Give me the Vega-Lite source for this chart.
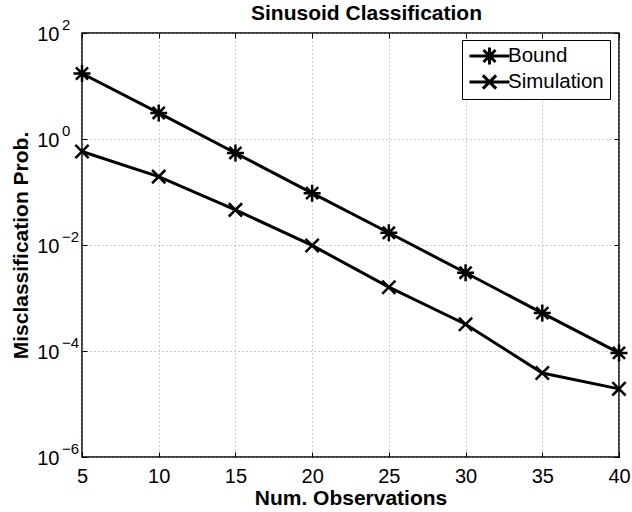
{
  "$schema": "https://vega.github.io/schema/vega-lite/v6.json",
  "width": 537,
  "height": 424,
  "autosize": "none",
  "padding": {"left": 82, "top": 33, "right": 13, "bottom": 55},
  "title": {"text": "Sinusoid Classification", "fontSize": 21, "fontWeight": "bold", "font": "Liberation Sans", "color": "black", "dx": 16, "dy": 24, "offset": 0, "baseline": "alphabetic", "anchor": "middle"},
  "config": {
    "font": "Liberation Sans",
    "view": {"stroke": "black", "strokeWidth": 1.5},
    "axis": {"labelColor": "black", "titleColor": "black", "tickColor": "black", "labelFlush": false, "labelOverlap": false, "labelBound": false, "gridColor": "#9a9a9a", "gridDash": [1, 3], "gridWidth": 1, "gridOpacity": 1}
  },
  "data": {"values": [
    {"series": "Bound", "n": 5, "p": 17.2},
    {"series": "Bound", "n": 10, "p": 3.1},
    {"series": "Bound", "n": 15, "p": 0.545},
    {"series": "Bound", "n": 20, "p": 0.095},
    {"series": "Bound", "n": 25, "p": 0.017},
    {"series": "Bound", "n": 30, "p": 0.003},
    {"series": "Bound", "n": 35, "p": 0.00052},
    {"series": "Bound", "n": 40, "p": 0.000092},
    {"series": "Simulation", "n": 5, "p": 0.58},
    {"series": "Simulation", "n": 10, "p": 0.195},
    {"series": "Simulation", "n": 15, "p": 0.046},
    {"series": "Simulation", "n": 20, "p": 0.0098},
    {"series": "Simulation", "n": 25, "p": 0.0016},
    {"series": "Simulation", "n": 30, "p": 0.00032},
    {"series": "Simulation", "n": 35, "p": 0.0000385},
    {"series": "Simulation", "n": 40, "p": 0.0000193}
  ]},
  "layer": [
    {
      "mark": {"type": "line", "color": "black", "strokeWidth": 3},
      "encoding": {
        "detail": {"field": "series"},
        "x": {"field": "n", "type": "quantitative", "scale": {"domain": [5, 40], "nice": false, "zero": false},
          "axis": {"orient": "bottom", "values": [5, 10, 15, 20, 25, 30, 35, 40], "grid": true, "domain": false, "ticks": true, "tickSize": -5, "labelPadding": 14, "labelFontSize": 20,
            "title": "Num. Observations", "titleFontSize": 21, "titleFontWeight": "bold", "titleY": 47, "titleX": 268.5, "titleBaseline": "alphabetic", "titleAlign": "center"}},
        "y": {"field": "p", "type": "quantitative", "scale": {"type": "log", "domain": [0.000001, 100], "nice": false},
          "axis": {"orient": "left", "values": [0.000001, 0.0001, 0.01, 1, 100], "grid": true, "domain": false, "ticks": true, "tickSize": -5, "labelPadding": 28, "labelFontSize": 20,
            "labelExpr": "'10'", "labelAlign": "right", "labelBaseline": "middle", "labelOffset": 1,
            "title": "Misclassification Prob.", "titleFontSize": 21, "titleFontWeight": "bold", "titleX": -55, "titleY": 212, "titleAngle": 270, "titleBaseline": "alphabetic", "titleAlign": "center"}}
      }
    },
    {
      "mark": {"type": "point", "filled": false, "stroke": "black", "strokeWidth": 2.5, "size": 289, "opacity": 1},
      "encoding": {
        "shape": {"field": "series", "type": "nominal", "scale": {"domain": ["Bound", "Simulation"], "range": ["M-1,0L1,0M0,-1L0,1M-0.71,-0.71L0.71,0.71M-0.71,0.71L0.71,-0.71", "M-0.78,-0.78L0.78,0.78M-0.78,0.78L0.78,-0.78"]}, "legend": null},
        "x": {"field": "n", "type": "quantitative", "scale": {"domain": [5, 40], "nice": false, "zero": false},
          "axis": {"orient": "top", "values": [5, 10, 15, 20, 25, 30, 35, 40], "grid": false, "domain": false, "labels": false, "ticks": true, "tickSize": -5, "title": null}},
        "y": {"field": "p", "type": "quantitative", "scale": {"type": "log", "domain": [0.000001, 100], "nice": false},
          "axis": {"orient": "right", "values": [0.000001, 0.0001, 0.01, 1, 100], "grid": false, "domain": false, "labels": false, "ticks": true, "tickSize": -5, "title": null}}
      }
    },
    {
      "mark": {"type": "point", "filled": false, "opacity": 0, "size": 400},
      "encoding": {
        "shape": {"field": "series", "type": "nominal", "scale": {"domain": ["Bound", "Simulation"], "range": ["M-2,0L2,0M-0.85,0L0.85,0M0,-0.85L0,0.85M-0.6,-0.6L0.6,0.6M-0.6,0.6L0.6,-0.6", "M-2,0L2,0M-0.66,-0.66L0.66,0.66M-0.66,0.66L0.66,-0.66"]},
          "legend": {"title": null, "orient": "none", "legendX": 380, "legendY": 7, "padding": 6, "strokeColor": "black", "fillColor": "white", "rowPadding": 5, "clipHeight": 20, "labelFontSize": 20.5, "labelColor": "black", "labelOffset": 7, "symbolOffset": 10, "symbolSize": 400, "symbolStrokeWidth": 3, "symbolStrokeColor": "black", "symbolOpacity": 1, "labelLimit": 300}},
        "x": {"field": "n", "type": "quantitative", "scale": {"domain": [5, 40], "nice": false, "zero": false}, "axis": null},
        "y": {"field": "p", "type": "quantitative", "scale": {"type": "log", "domain": [0.000001, 100], "nice": false},
          "axis": {"orient": "left", "values": [0.000001, 0.0001, 0.01, 1, 100], "grid": false, "domain": false, "ticks": false, "labelPadding": 20.5, "labelFontSize": 15,
            "labelExpr": "(round(log(datum.value)/LN10) < 0 ? '\u2212' : '') + abs(round(log(datum.value)/LN10))", "labelAlign": "left", "labelBaseline": "middle", "labelOffset": -9, "title": null}}
      }
    }
  ],
  "resolve": {"scale": {"shape": "independent"}, "axis": {"x": "independent", "y": "independent"}}
}
